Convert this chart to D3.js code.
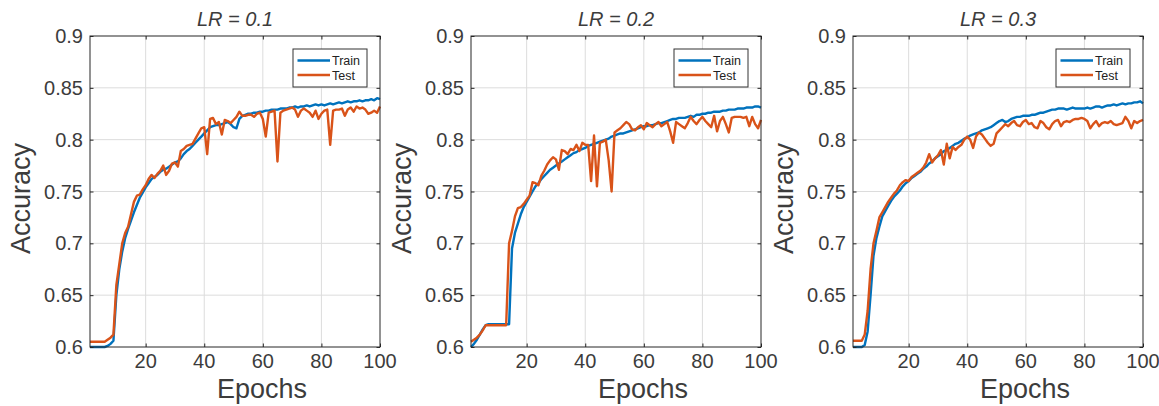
<!DOCTYPE html>
<html>
<head>
<meta charset="utf-8">
<script src="https://cdn.jsdelivr.net/npm/d3@7"></script>
<style>
    body { margin: 0; background: #fff; }
    svg { display: block; font-family: "Liberation Sans", Arial, Helvetica, sans-serif; }
    .tick-label { fill: #3c3c3c; font-size: 20px; }
    .axis-title { fill: #3c3c3c; font-size: 27px; }
    .panel-title { fill: #3c3c3c; font-size: 20px; font-style: italic; }
    .legend-label { fill: #222; font-size: 12.5px; }
</style>
</head>
<body>
<div id="chart"></div>
<script>

// values, one per epoch (1..100)
const train01 = [0.600,0.600,0.600,0.600,0.600,0.600,0.601,0.603,0.606,0.650,
    0.675,0.692,0.705,0.714,0.722,0.730,0.737,0.744,0.749,0.754,
    0.758,0.762,0.764,0.766,0.769,0.771,0.772,0.774,0.776,0.778,
    0.779,0.782,0.786,0.789,0.791,0.794,0.797,0.800,0.803,0.806,
    0.809,0.812,0.813,0.814,0.814,0.815,0.816,0.817,0.815,0.812,
    0.811,0.820,0.823,0.824,0.825,0.825,0.826,0.826,0.827,0.827,
    0.828,0.828,0.829,0.829,0.829,0.830,0.830,0.830,0.831,0.831,
    0.832,0.831,0.832,0.832,0.833,0.832,0.833,0.834,0.833,0.834,
    0.833,0.834,0.835,0.834,0.835,0.836,0.835,0.836,0.837,0.836,
    0.837,0.837,0.838,0.837,0.838,0.838,0.839,0.838,0.840,0.839];

const test01 = [0.605,0.605,0.605,0.605,0.605,0.605,0.607,0.609,0.612,0.660,
    0.680,0.700,0.710,0.716,0.728,0.740,0.746,0.747,0.752,0.756,
    0.762,0.766,0.763,0.767,0.770,0.775,0.766,0.770,0.777,0.778,
    0.774,0.789,0.791,0.794,0.795,0.796,0.801,0.806,0.811,0.812,
    0.786,0.820,0.821,0.815,0.817,0.805,0.819,0.818,0.816,0.819,
    0.822,0.827,0.823,0.823,0.824,0.824,0.822,0.825,0.826,0.820,
    0.803,0.826,0.827,0.828,0.779,0.826,0.828,0.829,0.830,0.831,
    0.829,0.822,0.828,0.830,0.828,0.826,0.822,0.828,0.820,0.825,
    0.828,0.829,0.795,0.828,0.829,0.829,0.830,0.823,0.829,0.831,
    0.827,0.832,0.830,0.831,0.829,0.825,0.826,0.828,0.826,0.832];

const train02 = [0.600,0.603,0.607,0.612,0.617,0.621,0.622,0.622,0.622,0.622,
    0.622,0.622,0.622,0.622,0.695,0.710,0.719,0.728,0.735,0.740,
    0.745,0.750,0.755,0.758,0.762,0.765,0.768,0.771,0.773,0.775,
    0.777,0.779,0.781,0.783,0.785,0.787,0.788,0.790,0.791,0.792,
    0.794,0.795,0.796,0.797,0.798,0.799,0.800,0.801,0.803,0.804,
    0.805,0.806,0.806,0.807,0.808,0.809,0.810,0.811,0.812,0.813,
    0.813,0.814,0.814,0.815,0.816,0.816,0.817,0.818,0.819,0.820,
    0.820,0.821,0.821,0.821,0.822,0.823,0.822,0.824,0.824,0.825,
    0.825,0.826,0.826,0.827,0.827,0.827,0.828,0.828,0.829,0.829,
    0.829,0.830,0.830,0.830,0.831,0.831,0.831,0.832,0.832,0.831];

const test02 = [0.605,0.607,0.609,0.612,0.616,0.621,0.621,0.621,0.621,0.621,
    0.621,0.621,0.621,0.700,0.712,0.726,0.734,0.735,0.738,0.742,
    0.746,0.759,0.758,0.756,0.765,0.770,0.776,0.780,0.783,0.781,
    0.771,0.790,0.789,0.786,0.791,0.790,0.795,0.789,0.797,0.795,
    0.795,0.760,0.804,0.755,0.797,0.798,0.800,0.780,0.750,0.807,
    0.809,0.811,0.814,0.817,0.815,0.810,0.809,0.812,0.814,0.810,
    0.816,0.814,0.812,0.815,0.817,0.813,0.815,0.817,0.808,0.797,
    0.817,0.815,0.813,0.811,0.816,0.822,0.818,0.815,0.819,0.822,
    0.818,0.815,0.812,0.823,0.808,0.818,0.822,0.815,0.807,0.821,
    0.822,0.822,0.822,0.821,0.822,0.813,0.822,0.815,0.811,0.819];

const train03 = [0.600,0.600,0.600,0.600,0.602,0.615,0.650,0.688,0.705,0.716,
    0.726,0.731,0.736,0.741,0.745,0.748,0.751,0.755,0.758,0.760,
    0.763,0.765,0.767,0.769,0.772,0.774,0.777,0.779,0.782,0.784,
    0.786,0.789,0.790,0.792,0.794,0.796,0.797,0.799,0.801,0.802,
    0.804,0.805,0.806,0.807,0.809,0.810,0.811,0.812,0.814,0.816,
    0.818,0.819,0.817,0.818,0.820,0.821,0.822,0.822,0.823,0.823,
    0.823,0.824,0.824,0.825,0.826,0.826,0.827,0.828,0.829,0.829,
    0.830,0.830,0.830,0.829,0.830,0.831,0.830,0.830,0.830,0.830,
    0.831,0.830,0.831,0.832,0.832,0.831,0.832,0.833,0.833,0.834,
    0.833,0.834,0.835,0.834,0.835,0.835,0.836,0.836,0.837,0.835];

const test03 = [0.606,0.606,0.606,0.606,0.612,0.635,0.675,0.700,0.712,0.725,
    0.730,0.735,0.740,0.744,0.748,0.751,0.756,0.759,0.761,0.760,
    0.764,0.766,0.768,0.770,0.773,0.778,0.786,0.778,0.782,0.785,
    0.790,0.776,0.796,0.782,0.793,0.790,0.793,0.795,0.800,0.803,
    0.800,0.792,0.803,0.807,0.805,0.801,0.797,0.794,0.796,0.806,
    0.809,0.812,0.815,0.813,0.816,0.818,0.814,0.813,0.817,0.819,
    0.815,0.816,0.812,0.811,0.818,0.816,0.812,0.810,0.815,0.818,
    0.819,0.813,0.817,0.818,0.817,0.819,0.820,0.820,0.821,0.820,
    0.818,0.811,0.815,0.818,0.813,0.816,0.817,0.816,0.818,0.815,
    0.814,0.815,0.816,0.822,0.818,0.811,0.818,0.816,0.818,0.819];

const titles = ["LR = 0.1", "LR = 0.2", "LR = 0.3"];
const seriesNames = ["Train", "Test"];
const yTicks = [0.6, 0.65, 0.7, 0.75, 0.8, 0.85, 0.9];
const xTicks = [20, 40, 60, 80, 100];


class AccuracyPanel {

    constructor(_svg, _left, _title, _train, _test) {
        this.svg = _svg;
        this.left = _left;
        this.title = _title;
        this.train = _train;
        this.test = _test;

        this.initVis();
    }

    initVis() {
        let vis = this;

        vis.width = 290;
        vis.height = 311;
        vis.top = 36;

        vis.g = vis.svg.append("g")
            .attr("transform", "translate(" + vis.left + "," + vis.top + ")");

        vis.x = d3.scaleLinear()
            .domain([1, 100])
            .range([0, vis.width]);

        vis.y = d3.scaleLinear()
            .domain([0.6, 0.9])
            .range([vis.height, 0]);

        // grid
        vis.g.selectAll(".xgrid")
            .data(xTicks.slice(0, -1))
            .enter().append("line")
            .attr("x1", d => vis.x(d)).attr("x2", d => vis.x(d))
            .attr("y1", 0).attr("y2", vis.height)
            .attr("stroke", "#dcdcdc");

        vis.g.selectAll(".ygrid")
            .data(yTicks.slice(1, -1))
            .enter().append("line")
            .attr("x1", 0).attr("x2", vis.width)
            .attr("y1", d => vis.y(d)).attr("y2", d => vis.y(d))
            .attr("stroke", "#dcdcdc");

        // lines
        let line = d3.line()
            .x((d, i) => vis.x(i + 1))
            .y(d => vis.y(d));

        vis.g.append("path")
            .datum(vis.train)
            .attr("d", line)
            .attr("fill", "none")
            .attr("stroke", "#0072BD")
            .attr("stroke-width", 2.4)
            .attr("stroke-linejoin", "round");

        vis.g.append("path")
            .datum(vis.test)
            .attr("d", line)
            .attr("fill", "none")
            .attr("stroke", "#D95319")
            .attr("stroke-width", 2.4)
            .attr("stroke-linejoin", "round");

        // box + ticks on all sides (inside)
        let tickLen = 3.5;
        vis.g.append("g").call(d3.axisBottom(vis.x).tickValues(xTicks).tickSize(tickLen).tickFormat(""))
            .attr("transform", "translate(0," + (vis.height - tickLen) + ")");
        vis.g.append("g").call(d3.axisTop(vis.x).tickValues(xTicks).tickSize(-tickLen).tickFormat(""));
        vis.g.append("g").call(d3.axisLeft(vis.y).tickValues(yTicks).tickSize(-tickLen).tickFormat(""));
        vis.g.append("g").call(d3.axisRight(vis.y).tickValues(yTicks).tickSize(-tickLen).tickFormat(""))
            .attr("transform", "translate(" + vis.width + ",0)");
        vis.g.selectAll(".domain").remove();
        vis.g.selectAll(".tick line").attr("stroke", "#262626");

        vis.g.append("rect")
            .attr("width", vis.width)
            .attr("height", vis.height)
            .attr("fill", "none")
            .attr("stroke", "#262626")
            .attr("stroke-width", 1);

        // tick labels
        vis.g.selectAll(".ylab")
            .data(yTicks)
            .enter().append("text")
            .attr("class", "tick-label")
            .attr("text-anchor", "end")
            .attr("x", -7)
            .attr("y", d => vis.y(d) + 7)
            .text(d => d);

        vis.g.selectAll(".xlab")
            .data(xTicks)
            .enter().append("text")
            .attr("class", "tick-label")
            .attr("text-anchor", "middle")
            .attr("x", d => vis.x(d))
            .attr("y", vis.height + 21)
            .text(d => d);

        // titles
        vis.g.append("text")
            .attr("class", "axis-title")
            .attr("text-anchor", "middle")
            .attr("x", vis.width / 2 + 27)
            .attr("y", vis.height + 51)
            .text("Epochs");

        vis.g.append("text")
            .attr("class", "axis-title")
            .attr("text-anchor", "middle")
            .attr("transform", "translate(-60," + (vis.height / 2 + 7) + ") rotate(-90)")
            .text("Accuracy");

        vis.g.append("text")
            .attr("class", "panel-title")
            .attr("text-anchor", "middle")
            .attr("x", vis.width / 2)
            .attr("y", -10.5)
            .text(vis.title);

        // legend
        let legend = vis.g.append("g")
            .attr("transform", "translate(" + (vis.width - 87) + ",13)");

        legend.append("rect")
            .attr("width", 74)
            .attr("height", 38)
            .attr("fill", "#fff")
            .attr("stroke", "#333")
            .attr("stroke-width", 1);

        let colors = ["#0072BD", "#D95319"];
        seriesNames.forEach((name, i) => {
            legend.append("line")
                .attr("x1", 4.5).attr("x2", 37)
                .attr("y1", 11.5 + i * 14.5).attr("y2", 11.5 + i * 14.5)
                .attr("stroke", colors[i])
                .attr("stroke-width", 2.4);
            legend.append("text")
                .attr("class", "legend-label")
                .attr("x", 39)
                .attr("y", 16 + i * 14.5)
                .text(name);
        });
    }
}

let svg = d3.select("#chart").append("svg")
    .attr("width", 1159)
    .attr("height", 406);

new AccuracyPanel(svg, 90, titles[0], train01, test01);
new AccuracyPanel(svg, 471, titles[1], train02, test02);
new AccuracyPanel(svg, 853, titles[2], train03, test03);

</script>
</body>
</html>
